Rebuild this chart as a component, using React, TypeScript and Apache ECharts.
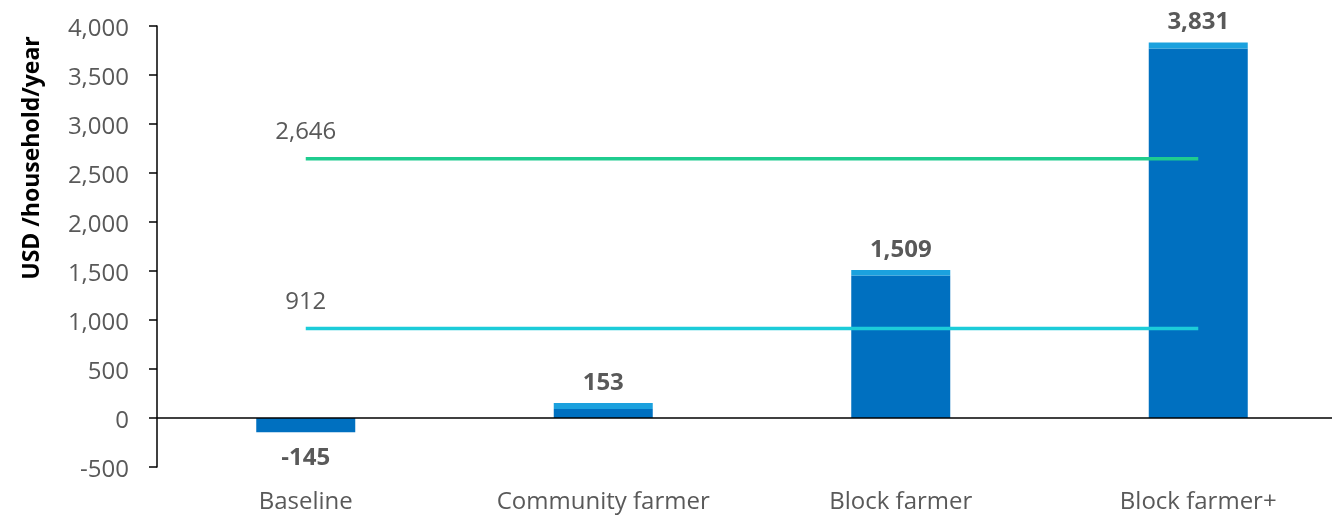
import React, { useEffect, useRef } from "react";
import * as echarts from "echarts";

const categories = ["Baseline", "Community farmer", "Block farmer", "Block farmer+"];
const totals = [-145, 153, 1509, 3831];
const darkPart = [-145, 93, 1454, 3771];
const lightPart = [0, 60, 55, 60];
const upperLine = [2646, 2646, 2646, 2646];
const lowerLine = [912, 912, 912, 912];
const yTicks = { min: -500, max: 4000, interval: 500 };

const GRAY = "#595959";
const FONT = "'Open Sans', 'Noto Sans', sans-serif";

export default function App() {
  const ref = useRef<HTMLDivElement>(null);
  useEffect(() => {
    if (!ref.current) return;
    const chart = echarts.init(ref.current, undefined, { renderer: "svg" });
    const fmt = (v: number) => v.toLocaleString("en-US");
    const labelBase = {
      color: GRAY,
      fontFamily: FONT,
      fontSize: 24,
      fontWeight: "bold" as const,
      distance: 11,
    };
    const lineLabel = (vals: number[]) =>
      vals.map((v, i) =>
        i === 0
          ? {
              value: v,
              label: {
                show: true,
                position: "top",
                distance: 17,
                color: GRAY,
                fontFamily: FONT,
                fontSize: 24,
                formatter: () => fmt(v),
              },
            }
          : v
      );
    chart.setOption({
      animation: false,
      grid: { left: 157, top: 26, height: 441, width: 1190, containLabel: false },
      xAxis: {
        type: "category",
        data: categories,
        axisLine: { show: false, onZero: false },
        axisTick: { show: false },
        axisLabel: { color: GRAY, fontFamily: FONT, fontSize: 24, margin: 20 },
      },
      yAxis: {
        type: "value",
        min: yTicks.min,
        max: yTicks.max,
        interval: yTicks.interval,
        axisLine: { show: true, lineStyle: { color: "#000", width: 1.5 } },
        axisTick: { show: true, length: 8, lineStyle: { color: "#000", width: 1.5 } },
        splitLine: { show: false },
        axisLabel: {
          color: GRAY,
          fontFamily: FONT,
          fontSize: 24,
          margin: 28,
          formatter: (v: number) => fmt(v),
        },
      },
      graphic: [
        {
          type: "text",
          x: 30,
          y: 158,
          rotation: Math.PI / 2,
          style: {
            text: "USD /household/year",
            fill: "#000",
            font: `bold 23px ${FONT}`,
            textAlign: "center",
            textVerticalAlign: "middle",
          },
        },
      ],
      series: [
        {
          type: "bar",
          stack: "total",
          barWidth: 99,
          itemStyle: { color: "#0070C0" },
          data: darkPart.map((v, i) =>
            totals[i] < 0
              ? {
                  value: v,
                  label: {
                    show: true,
                    position: "bottom",
                    ...labelBase,
                    formatter: () => fmt(totals[i]),
                  },
                }
              : v
          ),
          markLine: {
            silent: true,
            symbol: ["none", "none"],
            label: { show: false },
            lineStyle: { color: "#000", width: 1.5, type: "solid" },
            data: [{ yAxis: 0 }],
          },
        },
        {
          type: "bar",
          stack: "total",
          barWidth: 99,
          itemStyle: { color: "#1BA1DE" },
          data: lightPart.map((v, i) =>
            totals[i] >= 0
              ? {
                  value: v,
                  label: {
                    show: true,
                    position: "top",
                    ...labelBase,
                    formatter: () => fmt(totals[i]),
                  },
                }
              : v
          ),
        },
        {
          type: "line",
          z: 5,
          symbol: "circle",
          symbolSize: 0,
          showSymbol: true,
          lineStyle: { color: "#1FCC8F", width: 3.5 },
          itemStyle: { color: "#1FCC8F" },
          data: lineLabel(upperLine),
        },
        {
          type: "line",
          z: 5,
          symbol: "circle",
          symbolSize: 0,
          showSymbol: true,
          lineStyle: { color: "#1CCCD9", width: 3.5 },
          itemStyle: { color: "#1CCCD9" },
          data: lineLabel(lowerLine),
        },
      ],
    });
    return () => chart.dispose();
  }, []);
  return (
    <div
      ref={ref}
      style={{ position: "fixed", left: 0, top: 0, width: 1360, height: 516 }}
    />
  );
}
